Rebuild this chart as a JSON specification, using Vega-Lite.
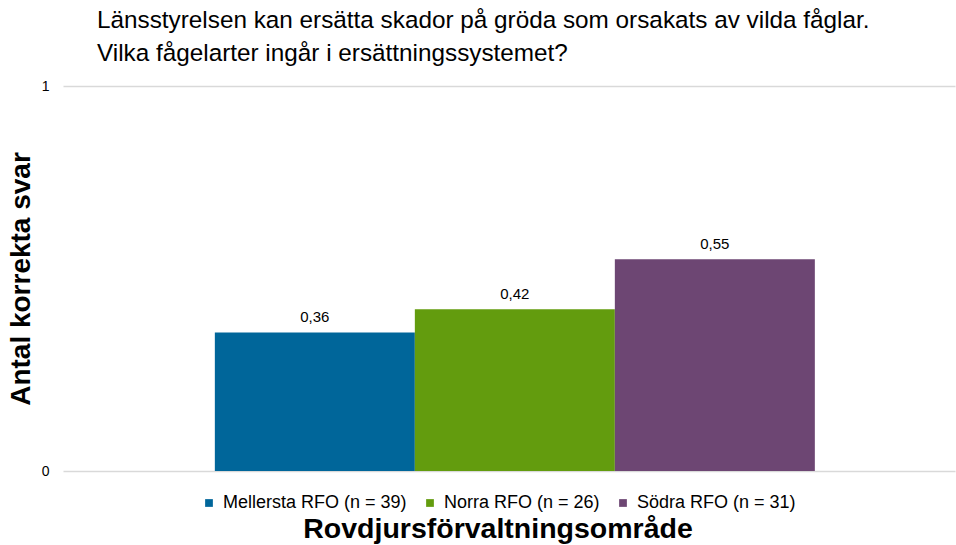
{
  "$schema": "https://vega.github.io/schema/vega-lite/v6.json",
  "width": 892,
  "height": 385,
  "autosize": {"type": "none"},
  "padding": {"left": 63, "top": 86, "right": 1, "bottom": 74},
  "background": "white",
  "config": {
    "font": "Liberation Sans",
    "view": {"stroke": null},
    "locale": {"number": {"decimal": ",", "thousands": " ", "grouping": [3], "currency": ["", " kr"]}}
  },
  "title": {
    "text": ["Länsstyrelsen kan ersätta skador på gröda som orsakats av vilda fåglar.", "Vilka fågelarter ingår i ersättningssystemet?"],
    "anchor": "start",
    "frame": "group",
    "dx": 34,
    "offset": 13,
    "fontSize": 24.3,
    "fontWeight": "normal",
    "lineHeight": 33,
    "color": "#000000"
  },
  "data": {
    "values": [
      {"serie": "Mellersta RFO (n = 39)", "varde": 0.36},
      {"serie": "Norra RFO (n = 26)", "varde": 0.42},
      {"serie": "Södra RFO (n = 31)", "varde": 0.55}
    ]
  },
  "encoding": {
    "x": {
      "field": "serie",
      "type": "nominal",
      "sort": null,
      "scale": {"paddingInner": 0, "paddingOuter": 0.73, "align": 0.52},
      "axis": {"labels": false, "ticks": false, "domain": false, "title": null}
    },
    "y": {
      "field": "varde",
      "type": "quantitative",
      "scale": {"domain": [0, 1]},
      "axis": {
        "values": [0, 1],
        "format": "d",
        "domain": false,
        "ticks": false,
        "gridColor": "#d9d9d9",
        "gridWidth": 1.5,
        "labelFontSize": 14,
        "labelColor": "#000000",
        "labelPadding": 14,
        "title": "Antal korrekta svar",
        "titleFontSize": 28,
        "titleFontWeight": "bold",
        "titleColor": "#000000",
        "titlePadding": 6
      }
    }
  },
  "layer": [
    {
      "mark": {"type": "bar"},
      "encoding": {
        "color": {
          "field": "serie",
          "type": "nominal",
          "sort": null,
          "scale": {"range": ["#00669a", "#639c0e", "#6d4673"]},
          "legend": {
            "orient": "none",
            "legendX": 137,
            "legendY": 408,
            "direction": "horizontal",
            "title": "Rovdjursförvaltningsområde",
            "titleOrient": "bottom",
            "titleAnchor": "middle",
            "titleFontSize": 28.5,
            "titleFontWeight": "bold",
            "titleColor": "#000000",
            "titlePadding": 3,
            "titleLimit": 0,
            "symbolType": "square",
            "symbolSize": 60,
            "symbolStrokeWidth": 0,
            "labelFontSize": 18,
            "labelColor": "#000000",
            "labelOffset": 5,
            "labelLimit": 0,
            "columnPadding": 14
          }
        }
      }
    },
    {
      "mark": {"type": "text", "baseline": "bottom", "dy": -7, "fontSize": 15, "color": "#000000"},
      "encoding": {
        "text": {"field": "varde", "type": "quantitative", "format": ".2f"}
      }
    }
  ]
}
